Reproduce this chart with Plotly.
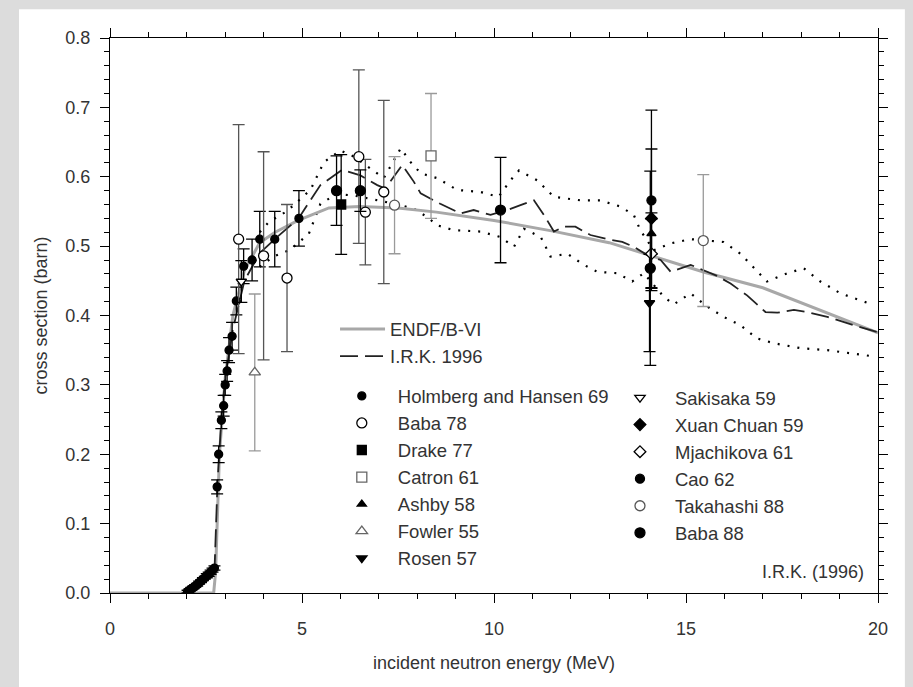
import plotly.graph_objects as go

# ---------------- evaluations ----------------
endf_e = [0.0, 2.0, 2.7, 2.75, 2.85, 3.0, 3.2, 3.5, 3.9, 4.3, 4.9, 5.7, 6.5, 7.5, 8.5,
          10.0, 11.5, 13.0, 14.0, 15.5, 17.0, 18.0, 19.0, 20.0]
endf_xs = [0.0, 0.0, 0.0, 0.03, 0.20, 0.31, 0.40, 0.465, 0.505, 0.52, 0.537, 0.555, 0.557,
           0.555, 0.549, 0.537, 0.522, 0.505, 0.488, 0.462, 0.44, 0.418, 0.397, 0.375]

irk_e = [2.72, 2.8, 2.9, 3.0, 3.2, 3.5, 3.9, 4.31, 4.91, 5.48, 5.79, 6.05, 6.52, 6.96, 7.17,
         7.61, 7.91, 8.09, 8.43, 8.6, 9.13, 9.47, 9.91, 10.34, 10.69, 11.04, 11.3, 11.56,
         11.82, 12.12, 12.51, 13.03, 13.34, 13.64, 13.99, 14.34, 14.6, 15.12, 15.81, 16.16,
         16.59, 17.07, 17.38, 17.81, 18.16, 18.68, 19.37, 20.0]
irk_xs = [0.03, 0.16, 0.25, 0.31, 0.38, 0.45, 0.49, 0.511, 0.54, 0.588, 0.60, 0.61, 0.602,
          0.588, 0.583, 0.617, 0.593, 0.576, 0.566, 0.561, 0.547, 0.552, 0.545, 0.552, 0.559,
          0.566, 0.545, 0.521, 0.528, 0.528, 0.516, 0.509, 0.506, 0.499, 0.487, 0.48, 0.463,
          0.473, 0.457, 0.446, 0.429, 0.405, 0.404, 0.408, 0.405, 0.398, 0.386, 0.376]

upper_e = [3.9, 4.14, 4.6, 5.22, 5.57, 6.0, 6.35, 6.78, 7.13, 7.57, 7.83, 8.09, 8.52, 9.04,
           9.65, 10.12, 10.43, 10.65, 11.12, 11.56, 12.25, 12.77, 13.29, 13.64, 13.81, 14.16,
           14.6, 15.12, 15.98, 16.42, 16.77, 17.11, 17.64, 18.07, 18.5, 19.02, 19.89]
upper_xs = [0.52, 0.535, 0.55, 0.581, 0.621, 0.638, 0.629, 0.612, 0.598, 0.641, 0.621, 0.605,
            0.598, 0.581, 0.578, 0.571, 0.595, 0.609, 0.595, 0.571, 0.566, 0.566, 0.557, 0.545,
            0.523, 0.494, 0.504, 0.51, 0.506, 0.489, 0.468, 0.449, 0.461, 0.468, 0.449, 0.432,
            0.415]

lower_e = [3.9, 4.26, 4.7, 5.18, 5.48, 5.9, 6.35, 6.96, 7.5, 7.91, 8.26, 8.52, 8.95, 9.65,
           10.17, 10.52, 10.78, 11.22, 11.47, 11.91, 12.34, 12.69, 13.21, 13.6, 13.9, 14.42,
           14.68, 15.12, 15.55, 15.98, 16.42, 16.85, 17.29, 17.98, 18.68, 19.37, 19.89]
lower_xs = [0.47, 0.485, 0.495, 0.518, 0.561, 0.575, 0.573, 0.566, 0.56, 0.554, 0.542, 0.53,
            0.523, 0.521, 0.513, 0.499, 0.525, 0.513, 0.485, 0.489, 0.473, 0.463, 0.461, 0.449,
            0.461, 0.427, 0.416, 0.432, 0.413, 0.398, 0.386, 0.367, 0.36, 0.353, 0.35, 0.345,
            0.341]

# ---------------- measurements ----------------
holmberg_e = [2.02, 2.07, 2.12, 2.17, 2.22, 2.27, 2.32, 2.37, 2.42, 2.47, 2.52, 2.57, 2.62,
              2.67, 2.72, 2.79, 2.83, 2.9, 2.96, 3.0, 3.05, 3.1, 3.18, 3.29, 3.48, 3.7, 3.9,
              4.29, 4.92]
holmberg_xs = [0.002, 0.004, 0.006, 0.008, 0.010, 0.012, 0.015, 0.017, 0.020, 0.022, 0.025,
               0.027, 0.030, 0.033, 0.036, 0.153, 0.20, 0.249, 0.27, 0.30, 0.32, 0.35, 0.37,
               0.421, 0.471, 0.48, 0.51, 0.51, 0.54]
holmberg_err = [0.002, 0.002, 0.002, 0.002, 0.002, 0.002, 0.002, 0.002, 0.002, 0.002, 0.003,
                0.003, 0.003, 0.003, 0.003, 0.01, 0.012, 0.012, 0.015, 0.015, 0.015, 0.018,
                0.02, 0.02, 0.025, 0.03, 0.04, 0.04, 0.04]

baba78_e = [3.35, 4.0, 4.61, 6.48, 6.65, 7.13]
baba78_xs = [0.51, 0.486, 0.454, 0.629, 0.549, 0.578]
baba78_err = [0.165, 0.15, 0.106, 0.125, 0.076, 0.132]

drake_e = [6.02]
drake_xs = [0.56]
drake_err = [0.072]

catron_e = [8.36]
catron_xs = [0.63]
catron_err = [0.09]

ashby_e = [14.1]
ashby_xs = [0.518]
ashby_err = [0.03]

fowler_e = [3.77]
fowler_xs = [0.318]
fowler_err = [0.113]

rosen_e = [14.05]
rosen_xs = [0.418]
rosen_err = [0.07]

sakisaka_e = [3.42]
sakisaka_xs = [0.449]
sakisaka_err = [0.03]

xuan_e = [14.1]
xuan_xs = [0.54]
xuan_err = [0.10]

mjach_e = [14.1]
mjach_xs = [0.489]
mjach_err = [0.05]

cao_e = [14.1]
cao_xs = [0.566]
cao_err = [0.13]

takahashi_e = [7.41, 15.45]
takahashi_xs = [0.559, 0.508]
takahashi_err = [0.07, 0.095]

baba88_e = [5.9, 6.52, 10.17, 14.07]
baba88_xs = [0.58, 0.58, 0.552, 0.468]
baba88_err = [0.05, 0.03, 0.076, 0.14]

x_ticks = [0, 5, 10, 15, 20]
y_ticks = [0.0, 0.1, 0.2, 0.3, 0.4, 0.5, 0.6, 0.7, 0.8]

FONT = "Liberation Sans, Arial, Helvetica, sans-serif"
TXT = "#333333"

fig = go.Figure()

# dotted uncertainty band
fig.add_trace(go.Scatter(x=upper_e, y=upper_xs, mode="lines", showlegend=False,
                         line=dict(color="black", width=2.2, dash="2px,8px"),
                         hoverinfo="skip"))
fig.add_trace(go.Scatter(x=lower_e, y=lower_xs, mode="lines", showlegend=False,
                         line=dict(color="black", width=2.2, dash="2px,8px"),
                         hoverinfo="skip"))

# ENDF/B-VI
fig.add_trace(go.Scatter(x=endf_e, y=endf_xs, mode="lines", name="ENDF/B-VI",
                         legend="legend",
                         line=dict(color="#a8a8a8", width=3)))
# I.R.K. 1996
fig.add_trace(go.Scatter(x=irk_e, y=irk_xs, mode="lines", name="I.R.K. 1996",
                         legend="legend",
                         line=dict(color="#222222", width=1.8, dash="18px,7px")))


def data_trace(x, y, err, name, symbol, size, fill, legend, errcolor="black",
               linecolor="black"):
    return go.Scatter(
        x=x, y=y, mode="markers", name=name, legend=legend,
        marker=dict(symbol=symbol, size=size, color=fill,
                    line=dict(color=linecolor, width=1.3)),
        error_y=dict(type="data", array=err, visible=True, color=errcolor,
                     thickness=1.3, width=6),
    )


# column 1
fig.add_trace(data_trace(holmberg_e, holmberg_xs, holmberg_err, "Holmberg and Hansen 69",
                         "circle", 8, "black", "legend2"))
fig.add_trace(data_trace(baba78_e, baba78_xs, baba78_err, "Baba 78",
                         "circle", 10, "white", "legend2", errcolor="#555555"))
fig.add_trace(data_trace(drake_e, drake_xs, drake_err, "Drake 77",
                         "square", 9, "black", "legend2"))
fig.add_trace(data_trace(catron_e, catron_xs, catron_err, "Catron 61",
                         "square", 10, "white", "legend2", errcolor="#9a9a9a",
                         linecolor="#666666"))
fig.add_trace(data_trace(ashby_e, ashby_xs, ashby_err, "Ashby 58",
                         "triangle-up", 8, "black", "legend2"))
fig.add_trace(data_trace(fowler_e, fowler_xs, fowler_err, "Fowler 55",
                         "triangle-up", 10, "white", "legend2", errcolor="#9a9a9a",
                         linecolor="#666666"))
fig.add_trace(data_trace(rosen_e, rosen_xs, rosen_err, "Rosen 57",
                         "triangle-down", 9, "black", "legend2"))
# column 2
fig.add_trace(data_trace(sakisaka_e, sakisaka_xs, sakisaka_err, "Sakisaka 59",
                         "triangle-down", 9, "white", "legend3"))
fig.add_trace(data_trace(xuan_e, xuan_xs, xuan_err, "Xuan Chuan 59",
                         "diamond", 9, "black", "legend3"))
fig.add_trace(data_trace(mjach_e, mjach_xs, mjach_err, "Mjachikova 61",
                         "diamond", 9, "white", "legend3"))
fig.add_trace(data_trace(cao_e, cao_xs, cao_err, "Cao 62",
                         "circle", 9, "black", "legend3"))
fig.add_trace(data_trace(takahashi_e, takahashi_xs, takahashi_err, "Takahashi 88",
                         "circle", 10, "white", "legend3", errcolor="#9a9a9a",
                         linecolor="#555555"))
fig.add_trace(data_trace(baba88_e, baba88_xs, baba88_err, "Baba 88",
                         "circle", 10, "black", "legend3"))

# white panel around the chart
fig.add_shape(type="rect", xref="paper", yref="paper",
              x0=-0.1185, x1=1.035, y0=-0.17, y1=1.052,
              fillcolor="white", line=dict(width=0), layer="below")

fig.add_annotation(text="I.R.K. (1996)", xref="paper", yref="paper",
                   x=0.984, y=0.038, xanchor="right", yanchor="middle",
                   showarrow=False, font=dict(size=18, color=TXT, family=FONT))

axis_common = dict(showline=True, linecolor="black", linewidth=1.2, mirror="ticks",
                   ticks="outside", tickcolor="black", tickwidth=1.2, ticklen=9,
                   showgrid=False, zeroline=False,
                   tickfont=dict(size=18, color=TXT, family=FONT))

fig.update_xaxes(range=[0, 20], tickvals=x_ticks,
                 minor=dict(dtick=1, tick0=0, ticks="outside", ticklen=5,
                            tickcolor="black", tickwidth=1),
                 ticklabelstandoff=10,
                 title=dict(text="incident neutron energy (MeV)",
                            font=dict(size=18, color=TXT, family=FONT), standoff=18),
                 **axis_common)
fig.update_yaxes(range=[0, 0.8], tickvals=y_ticks, tickformat=".1f",
                 minor=dict(dtick=0.02, tick0=0, ticks="outside", ticklen=5,
                            tickcolor="black", tickwidth=1),
                 ticklabelstandoff=6,
                 title=dict(text="cross section (barn)",
                            font=dict(size=18, color=TXT, family=FONT), standoff=12),
                 **axis_common)

leg_common = dict(xanchor="left", yanchor="top", bgcolor="rgba(0,0,0,0)",
                  borderwidth=0, font=dict(size=18.5, color=TXT, family=FONT))

fig.update_layout(
    width=913, height=687,
    margin=dict(l=110, r=35, t=38, b=94),
    paper_bgcolor="#dcdcdc",
    plot_bgcolor="white",
    font=dict(family=FONT, color=TXT),
    legend=dict(x=0.293, y=0.509, itemwidth=45, **leg_common),
    legend2=dict(x=0.281, y=0.3885, itemwidth=62, **leg_common),
    legend3=dict(x=0.6445, y=0.3855, itemwidth=60, **leg_common),
)

fig.write_html("out.html")
